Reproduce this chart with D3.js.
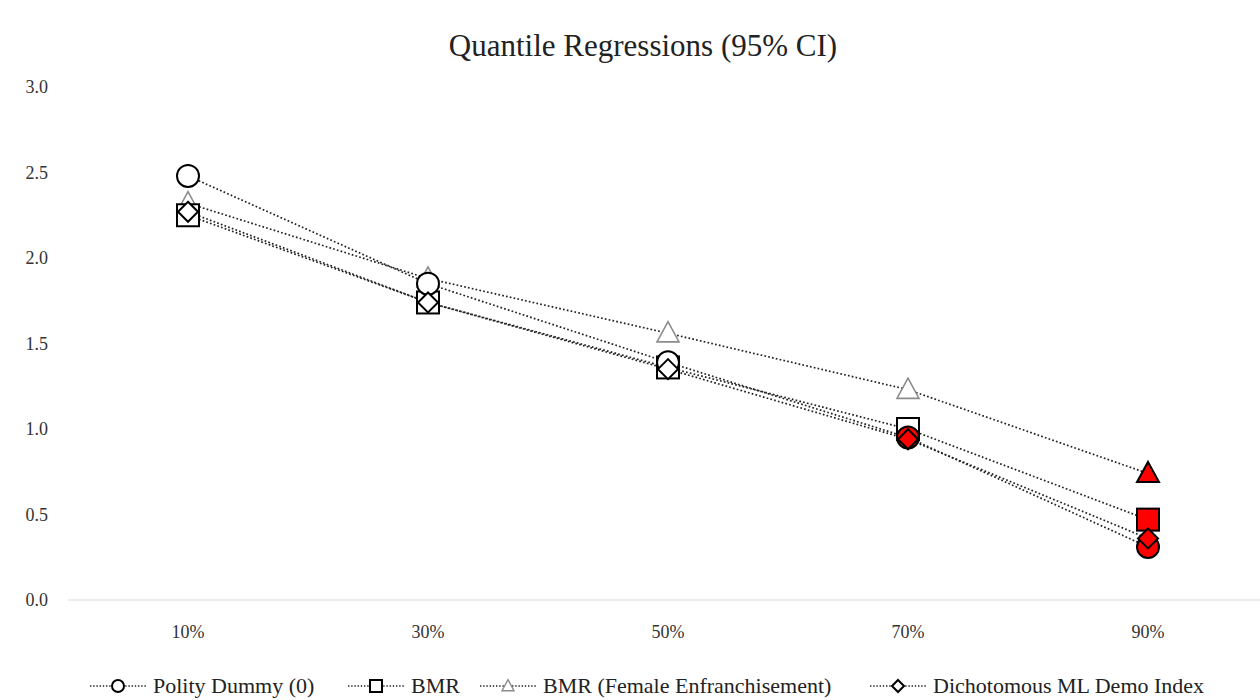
<!DOCTYPE html>
<html>
<head>
<meta charset="utf-8">
<script src="https://cdn.jsdelivr.net/npm/d3@7"></script>
<style>
  body { margin: 0; background: #fff; }
  svg text { font-family: "Liberation Serif", "DejaVu Serif", serif; fill: #222; }
</style>
</head>
<body>
<div id="chart"></div>
<script>
// -------------------- DATA --------------------
const quantiles = ["10%", "30%", "50%", "70%", "90%"];
const yTicks = [0, 0.5, 1.0, 1.5, 2.0, 2.5, 3.0];

const seriesNames = ["Polity Dummy (0)", "BMR", "BMR (Female Enfranchisement)", "Dichotomous ML Demo Index"];
const seriesShapes = ["circle", "square", "triangle", "diamond"];

const polityValues = [2.48, 1.85, 1.39, 0.95, 0.31];
const bmrValues = [2.25, 1.74, 1.36, 1.00, 0.47];
const bmrFemaleValues = [2.32, 1.88, 1.56, 1.23, 0.74];
const dichoValues = [2.27, 1.74, 1.35, 0.94, 0.36];

// red highlighted points (per quantile)
const polityRed = [false, false, false, true, true];
const bmrRed = [false, false, false, false, true];
const bmrFemaleRed = [false, false, false, false, true];
const dichoRed = [false, false, false, true, true];

const series = [
  { name: seriesNames[0], shape: seriesShapes[0], values: polityValues, red: polityRed },
  { name: seriesNames[1], shape: seriesShapes[1], values: bmrValues, red: bmrRed },
  { name: seriesNames[2], shape: seriesShapes[2], values: bmrFemaleValues, red: bmrFemaleRed },
  { name: seriesNames[3], shape: seriesShapes[3], values: dichoValues, red: dichoRed }
];

// -------------------- LAYOUT --------------------
const W = 1260, H = 700;
const svg = d3.select("#chart").append("svg")
  .attr("width", W).attr("height", H);

const x = d3.scalePoint()
  .domain(quantiles)
  .range([68, 1268])
  .padding(0.5);

const y = d3.scaleLinear()
  .domain([0, 3])
  .range([600, 87]);

svg.append("text")
  .attr("x", 643).attr("y", 56)
  .attr("text-anchor", "middle")
  .style("font-size", "31px")
  .text("Quantile Regressions (95% CI)");

// y tick labels (no axis line)
svg.append("g").selectAll("text")
  .data(yTicks).join("text")
  .attr("x", 48).attr("y", d => y(d) + 6)
  .attr("text-anchor", "end")
  .style("font-size", "18px")
  .style("fill", "#333")
  .text(d => d.toFixed(1));

// x axis
svg.append("line")
  .attr("x1", 68).attr("x2", 1260)
  .attr("y1", y(0)).attr("y2", y(0))
  .attr("stroke", "#d9d9d9").attr("stroke-width", 1);

svg.append("g").selectAll("text")
  .data(quantiles).join("text")
  .attr("x", d => x(d)).attr("y", 638)
  .attr("text-anchor", "middle")
  .style("font-size", "18px")
  .style("fill", "#333")
  .text(d => d);

// -------------------- MARKERS --------------------
function drawMarker(g, shape, cx, cy, s, fill, stroke, sw) {
  if (shape === "circle") {
    g.append("circle").attr("cx", cx).attr("cy", cy).attr("r", s)
      .attr("fill", fill).attr("stroke", stroke).attr("stroke-width", sw);
  } else if (shape === "square") {
    g.append("rect").attr("x", cx - s).attr("y", cy - s)
      .attr("width", 2 * s).attr("height", 2 * s)
      .attr("fill", fill).attr("stroke", stroke).attr("stroke-width", sw);
  } else if (shape === "triangle") {
    const h = s * 1.05;
    g.append("path")
      .attr("d", `M${cx},${cy - h}L${cx + s},${cy + h * 0.75}L${cx - s},${cy + h * 0.75}Z`)
      .attr("fill", fill).attr("stroke", stroke).attr("stroke-width", sw)
      .attr("stroke-linejoin", "miter");
  } else {
    g.append("path")
      .attr("d", `M${cx},${cy - s}L${cx + s},${cy}L${cx},${cy + s}L${cx - s},${cy}Z`)
      .attr("fill", fill).attr("stroke", stroke).attr("stroke-width", sw);
  }
}

const line = d3.line()
  .x((d, i) => x(quantiles[i]))
  .y(d => y(d));

// dotted lines first
series.forEach(s => {
  svg.append("path")
    .datum(s.values)
    .attr("fill", "none")
    .attr("stroke", "#222")
    .attr("stroke-width", 1.7)
    .attr("stroke-dasharray", "1.7,2.2")
    .attr("d", line);
});

const sizes = { circle: 11, square: 11, triangle: 11, diamond: 10 };
const drawOrder = [2, 1, 0, 3];
drawOrder.forEach(k => {
  const s = series[k];
  const g = svg.append("g");
  s.values.forEach((v, i) => {
    const red = s.red[i];
    const fill = red ? "#ff0000" : "#fff";
    const stroke = red ? "#000" : (s.shape === "triangle" ? "#8c8c8c" : "#000");
    drawMarker(g, s.shape, x(quantiles[i]), y(v), sizes[s.shape], fill, stroke,
      s.shape === "triangle" && !red ? 1.6 : 2);
  });
});

// -------------------- LEGEND --------------------
const legendX = [90, 348, 480, 870];
const legend = svg.append("g");
series.forEach((s, k) => {
  const lx = legendX[k];
  const ly = 686;
  legend.append("line")
    .attr("x1", lx).attr("x2", lx + 56)
    .attr("y1", ly).attr("y2", ly)
    .attr("stroke", "#222").attr("stroke-width", 1.4)
    .attr("stroke-dasharray", "1.4,1.8");
  drawMarker(legend, s.shape, lx + 28, ly, 6, "#fff",
    s.shape === "triangle" ? "#8c8c8c" : "#000", s.shape === "triangle" ? 1.4 : 2);
  legend.append("text")
    .attr("x", lx + 63).attr("y", ly + 7)
    .style("font-size", "22px")
    .text(s.name);
});
</script>
</body>
</html>
